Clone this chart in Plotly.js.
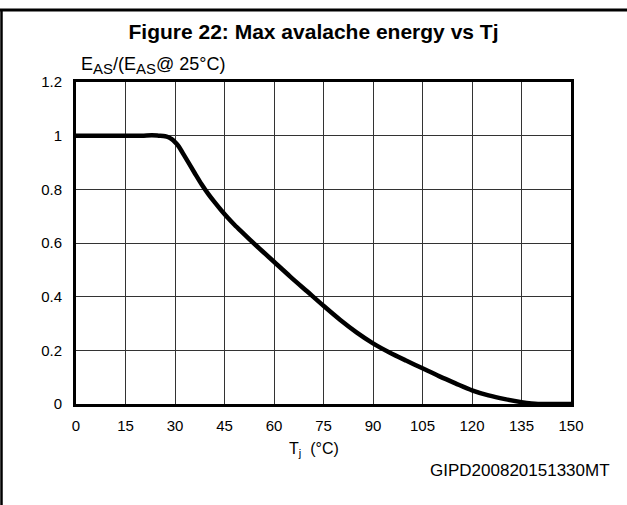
<!DOCTYPE html>
<html>
<head>
<meta charset="utf-8">
<script src="https://cdn.plot.ly/plotly-3.0.1.min.js"></script>
<style>html,body{margin:0;padding:0;background:#fff;}#chart{width:627px;height:505px;}</style>
</head>
<body>
<div id="chart"></div>
<script>
// Data
const tj = [0, 5, 10, 15, 20, 23, 25, 27, 28, 29, 30, 31, 33, 36, 38, 40, 42, 44, 46, 48, 50, 55, 60, 65, 70, 75, 80, 85, 90, 95, 100, 105, 110, 115, 120, 125, 130, 135, 138, 140, 145, 150];
const easRatio = [1, 1, 1, 1, 1, 1.0015, 1.0, 0.998, 0.994, 0.987, 0.976, 0.962, 0.922, 0.86, 0.82, 0.784, 0.752, 0.722, 0.694, 0.668, 0.644, 0.586, 0.53, 0.474, 0.42, 0.366, 0.314, 0.267, 0.226, 0.192, 0.162, 0.133, 0.104, 0.077, 0.051, 0.032, 0.018, 0.007, 0.002, 0, 0, 0];
const xTicks = [0, 15, 30, 45, 60, 75, 90, 105, 120, 135, 150];
const yTicks = [0, 0.2, 0.4, 0.6, 0.8, 1, 1.2];

const W = 627, H = 505, L = 76, R = 571, T = 82, B = 404;
const px = x => (x - L) / (R - L);
const py = y => (B - y) / (B - T);
const font = 'Arial, "Liberation Sans", sans-serif';

const trace = {
  x: tj, y: easRatio, type: 'scatter', mode: 'lines',
  line: {color: '#000', width: 4.5, shape: 'spline', smoothing: 0.8},
  hoverinfo: 'skip', showlegend: false
};

const layout = {
  width: W, height: H,
  margin: {l: L, r: W - R, t: T, b: H - B, pad: 0},
  paper_bgcolor: '#fff', plot_bgcolor: '#fff',
  font: {family: font, size: 15, color: '#000'},
  title: {text: '<b>Figure 22: Max avalache energy vs Tj</b>', font: {family: font, size: 21, color: '#000'},
          x: 0.5, xref: 'container', y: 1 - 32 / H, yref: 'container', yanchor: 'middle', xanchor: 'center'},
  xaxis: {range: [0, 150], tickvals: xTicks, ticktext: xTicks.map(String),
          showgrid: true, gridcolor: '#333', gridwidth: 1, zeroline: false,
          showline: true, linecolor: '#000', linewidth: 3, mirror: true,
          ticks: 'outside', ticklen: 6, tickcolor: 'rgba(0,0,0,0)',
          tickfont: {family: font, size: 15, color: '#000'}, fixedrange: true},
  yaxis: {range: [0, 1.2], tickvals: yTicks, ticktext: yTicks.map(String),
          showgrid: true, gridcolor: '#333', gridwidth: 1, zeroline: false,
          showline: true, linecolor: '#000', linewidth: 3, mirror: true,
          ticks: 'outside', ticklen: 8, tickcolor: 'rgba(0,0,0,0)',
          tickfont: {family: font, size: 15, color: '#000'}, fixedrange: true},
  annotations: [
    {text: 'E<sub><span style="font-size:15px">AS</span></sub>/(E<sub><span style="font-size:15px">AS</span></sub>@ 25°C)',
     xref: 'paper', yref: 'paper',
     x: px(79), y: py(66), xanchor: 'left', yanchor: 'middle', showarrow: false,
     font: {family: font, size: 18, color: '#000'}},
    {text: 'T<sub>j</sub>  (°C)', xref: 'paper', yref: 'paper',
     x: px(314), y: py(438), xanchor: 'center', yanchor: 'top', showarrow: false,
     font: {family: font, size: 16, color: '#000'}},
    {text: 'GIPD200820151330MT', xref: 'paper', yref: 'paper',
     x: px(612), y: py(470), xanchor: 'right', yanchor: 'middle', showarrow: false,
     font: {family: font, size: 17, color: '#000'}}
  ],
  shapes: [
    {type: 'line', xref: 'paper', yref: 'paper', x0: px(0), x1: px(627), y0: py(10), y1: py(10),
     line: {color: '#000', width: 3}},
    {type: 'line', xref: 'paper', yref: 'paper', x0: px(1.5), x1: px(1.5), y0: py(9), y1: py(505),
     line: {color: '#000', width: 2.5}}
  ]
};

Plotly.newPlot('chart', [trace], layout, {displayModeBar: false, staticPlot: true});
</script>
</body>
</html>
